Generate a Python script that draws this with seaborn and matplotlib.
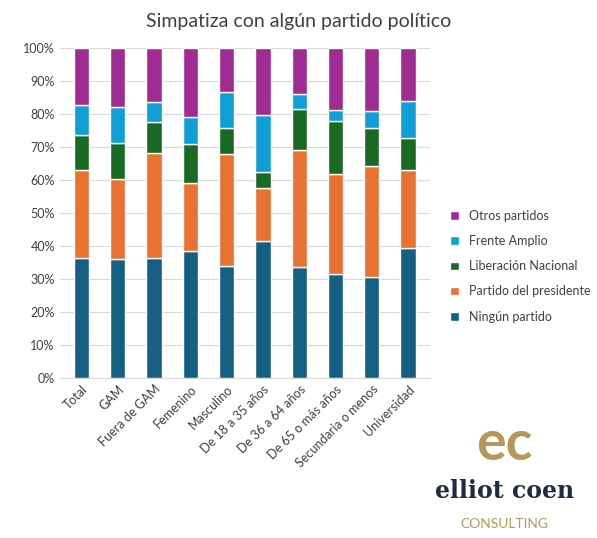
import numpy as np
import matplotlib
matplotlib.use("Agg")
import matplotlib.pyplot as plt
import seaborn as sns
from matplotlib.ticker import PercentFormatter

categorias = ["Total", "GAM", "Fuera de GAM", "Femenino", "Masculino",
              "De 18 a 35 años", "De 36 a 64 años", "De 65 o más años",
              "Secundaria o menos", "Universidad"]
series = ["Ningún partido", "Partido del presidente", "Liberación Nacional",
          "Frente Amplio", "Otros partidos"]
ningun = [36.4, 36.0, 36.4, 38.5, 33.9, 41.5, 33.6, 31.5, 30.6, 39.4]
presidente = [26.6, 24.3, 31.8, 20.6, 34.0, 16.1, 35.5, 30.3, 33.6, 23.6]
liberacion = [10.6, 10.9, 9.4, 11.8, 8.1, 4.8, 12.4, 16.1, 11.6, 9.7]
frente = [9.1, 10.9, 6.3, 8.2, 10.7, 17.3, 4.6, 3.3, 5.1, 11.5]
otros = [17.3, 17.9, 16.1, 20.9, 13.3, 20.3, 13.9, 18.8, 19.1, 15.8]
colores = ["#156082", "#E97132", "#196B24", "#0F9ED5", "#A02B93"]

sns.set_style("white")
plt.rcParams["font.family"] = ["Lato", "DejaVu Sans"]

fig = plt.figure(figsize=(5.97, 5.38), dpi=100)
ax = fig.add_axes([0.10, 0.297, 0.62, 0.613])

x = np.arange(len(categorias))
base = np.zeros(len(categorias))
for nombre, vals, c in zip(series, [ningun, presidente, liberacion, frente, otros], colores):
    ax.bar(x, vals, bottom=base, width=0.42, color=c, label=nombre, zorder=3)
    base += np.array(vals)

ax.set_ylim(0, 100)
ax.set_xlim(-0.6, len(categorias) - 0.4)
ax.set_yticks(range(0, 101, 10))
ax.yaxis.set_major_formatter(PercentFormatter(decimals=0))
ax.yaxis.grid(True, color="#d9d9d9", lw=0.8, zorder=0)
ax.set_xticks(x)
ax.set_xticklabels(categorias, rotation=45, ha="right", rotation_mode="anchor")
ax.tick_params(axis="both", labelsize=9, colors="#404040", length=0)
sns.despine(ax=ax, left=True)
ax.spines["bottom"].set_color("#d9d9d9")

h, l = ax.get_legend_handles_labels()
fig.legend(h[::-1], l[::-1], loc="center left", bbox_to_anchor=(0.735, 0.505),
           frameon=False, fontsize=9, handlelength=0.7, handleheight=0.7,
           labelspacing=1.05, labelcolor="#404040")
fig.suptitle("Simpatiza con algún partido político", y=0.975, fontsize=14, color="#404040")

# logo text
fig.text(0.845, 0.145, "ec", fontsize=40, color="#b8985a", ha="center", fontweight="bold")
fig.text(0.845, 0.075, "elliot coen", fontsize=17, color="#1f2a44", ha="center",
         family=["DejaVu Serif"], fontweight="bold")
fig.text(0.845, 0.018, "CONSULTING", fontsize=10, color="#b8985a", ha="center")

fig.savefig("out.png", dpi=100)
